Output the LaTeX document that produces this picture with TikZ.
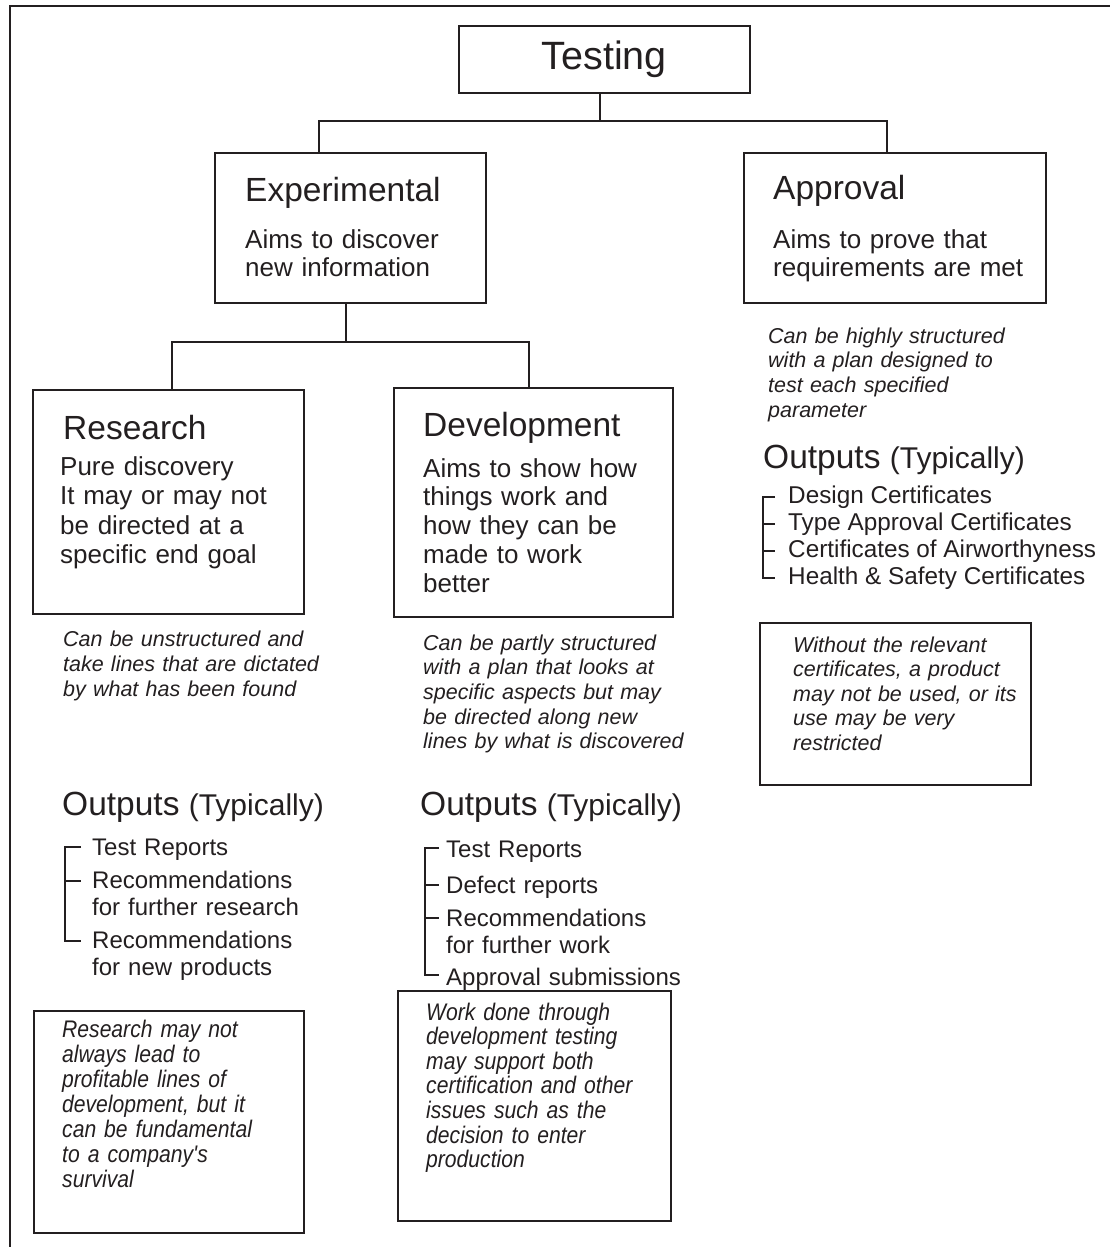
\documentclass[tikz,border=0pt]{standalone}
\usepackage{fontspec}
\setmainfont{Liberation Sans}
\newfontfamily\narrowsans[FakeStretch=0.88]{Liberation Sans}
\usetikzlibrary{calc}
\definecolor{ink}{RGB}{35,31,32}

\begin{document}
\begin{tikzpicture}[x=1pt, y=-1pt, color=ink,
        frame/.style={line width=2.6pt},
        box/.style={draw, line width=1.6pt, inner sep=0pt, anchor=north west},
        link/.style={line width=1.6pt},
        brk/.style={line width=1.6pt},
        head/.style={inner sep=0pt, anchor=base west, font=\fontsize{33.5}{36}\selectfont},
        body/.style={inner sep=0pt, anchor=base west, align=left, text width=250pt,
            font=\fontsize{26}{29.5}\selectfont},
        note/.style={inner sep=0pt, anchor=base west, align=left, text width=340pt,
            font=\fontsize{21.5}{24.7}\selectfont\itshape},
        boxnote/.style={inner sep=0pt, anchor=base west, align=left, text width=260pt,
            font=\fontsize{24}{24.6}\selectfont\narrowsans\itshape},
        outhead/.style={inner sep=0pt, anchor=base west, font=\fontsize{33.5}{36}\selectfont},
        item/.style={inner sep=0pt, anchor=base west, align=left, text width=300pt,
            font=\fontsize{24}{27}\selectfont},
        ritem/.style={inner sep=0pt, anchor=base west, font=\fontsize{24.3}{27}\selectfont}]

        \useasboundingbox (0, 0) rectangle (1110, 1247);

        % Page frame, open at right and bottom
        \draw [frame] (10, 1247) -- (10, 6) -- (1110, 6);

        % Top box
        \node [box, minimum width=291pt, minimum height=67pt,
            font=\fontsize{39.5}{42}\selectfont] (test) at (458, 25) {Testing};

        % Experimental and approval boxes
        \node [box, minimum width=271pt, minimum height=150pt] (exp) at (214, 152) {};
        \node [head] (exphead) at (245, 201) {Experimental};
        \node [body, font=\fontsize{26}{28}\selectfont] (exptext) at (245, 248) {Aims to discover\\new information};

        \node [box, minimum width=302pt, minimum height=150pt] (app) at (743, 152) {};
        \node [head] (apphead) at (773, 199) {Approval};
        \node [body, font=\fontsize{26}{28.5}\selectfont] (apptext) at (773, 248) {Aims to prove that\\requirements are met};

        % Research and development boxes
        \node [box, minimum width=271pt, minimum height=224pt] (res) at (32, 389) {};
        \node [head] (reshead) at (63, 439) {Research};
        \node [body] (restext) at (60, 475) {Pure discovery\\It may or may not\\be directed at a\\specific end goal};

        \node [box, minimum width=279pt, minimum height=229pt] (dev) at (393, 387) {};
        \node [head] (devhead) at (423, 436) {Development};
        \node [body, font=\fontsize{26}{28.8}\selectfont] (devtext) at (423, 477) {Aims to show how\\things work and\\how they can be\\made to work\\better};

        % Tree lines
        \coordinate (split1) at (600, 121);
        \coordinate (expin) at (319, 121);
        \coordinate (appin) at (887, 121);
        \draw [link] (test.south -| split1) -- (split1);
        \draw [link] (exp.north -| expin) |- (appin) -- (app.north -| appin);

        \coordinate (split2) at (346, 342);
        \coordinate (resin) at (172, 342);
        \coordinate (devin) at (529, 342);
        \draw [link] (exp.south -| split2) -- (split2);
        \draw [link] (res.north -| resin) |- (devin) -- (dev.north -| devin);

        % Notes under the boxes
        \node [note] (appnote) at (768, 343) {Can be highly structured\\with a plan designed to\\test each specified\\parameter};
        \node [note, font=\fontsize{21.5}{25}\selectfont\itshape] (resnote) at (63, 646) {Can be unstructured and\\take lines that are dictated\\by what has been found};
        \node [note] (devnote) at (423, 650) {Can be partly structured\\with a plan that looks at\\specific aspects but may\\be directed along new\\lines by what is discovered};

        % Approval outputs
        \node [outhead] (appout) at (763, 468) {Outputs {\fontsize{30}{32}\selectfont(Typically)}};
        \node [ritem] (ao1) at (788, 503) {Design Certificates};
        \node [ritem] (ao2) at (788, 530) {Type Approval Certificates};
        \node [ritem] (ao3) at (788, 557) {Certificates of Airworthyness};
        \node [ritem] (ao4) at (788, 584) {Health \& Safety Certificates};
        \draw [brk] ([xshift=-13pt, yshift=6pt]ao1.base west) -| ([xshift=-25pt, yshift=6pt]ao4.base west)
            -- ([xshift=-13pt, yshift=6pt]ao4.base west);
        \foreach \n in {ao2, ao3}
            \draw [brk] ([xshift=-25pt, yshift=6pt]\n.base west) -- ([xshift=-13pt, yshift=6pt]\n.base west);

        \node [box, minimum width=271pt, minimum height=162pt] (appbox) at (759, 622) {};
        \node [note, font=\fontsize{21.5}{24.5}\selectfont\itshape] (appboxtext) at (793, 652) {Without the relevant\\certificates, a product\\may not be used, or its\\use may be very\\restricted};

        % Research outputs
        \node [outhead] (resout) at (62, 815) {Outputs {\fontsize{30}{32}\selectfont(Typically)}};
        \node [item] (ro1) at (92, 855) {Test Reports};
        \node [item] (ro2) at (92, 888) {Recommendations\\for further research};
        \node [item] (ro3) at (92, 948) {Recommendations\\for new products};
        \draw [brk] ([xshift=-11pt, yshift=8pt]ro1.base west) -| ([xshift=-27pt, yshift=7pt]ro3.base west)
            -- ([xshift=-11pt, yshift=7pt]ro3.base west);
        \draw [brk] ([xshift=-27pt, yshift=7pt]ro2.base west) -- ([xshift=-11pt, yshift=7pt]ro2.base west);

        \node [box, minimum width=270pt, minimum height=222pt] (resbox) at (33, 1010) {};
        \node [boxnote, font=\fontsize{24}{25}\selectfont\narrowsans\itshape] (resboxtext) at (62, 1037) {Research may not\\always lead to\\profitable lines of\\development, but it\\can be fundamental\\to a company's\\survival};

        % Development outputs
        \node [outhead] (devout) at (420, 815) {Outputs {\fontsize{30}{32}\selectfont(Typically)}};
        \node [item] (do1) at (446, 857) {Test Reports};
        \node [item] (do2) at (446, 893) {Defect reports};
        \node [item] (do3) at (446, 926) {Recommendations\\for further work};
        \node [item] (do4) at (446, 985) {Approval submissions};
        \draw [brk] ([xshift=-7pt, yshift=9pt]do1.base west) -| ([xshift=-21pt, yshift=10pt]do4.base west)
            -- ([xshift=-7pt, yshift=10pt]do4.base west);
        \foreach \n in {do2, do3}
            \draw [brk] ([xshift=-21pt, yshift=8pt]\n.base west) -- ([xshift=-7pt, yshift=8pt]\n.base west);

        \node [box, minimum width=273pt, minimum height=230pt] (devbox) at (397, 990) {};
        \node [boxnote] (devboxtext) at (426, 1020) {Work done through\\development testing\\may support both\\certification and other\\issues such as the\\decision to enter\\production};
\end{tikzpicture}
\end{document}
